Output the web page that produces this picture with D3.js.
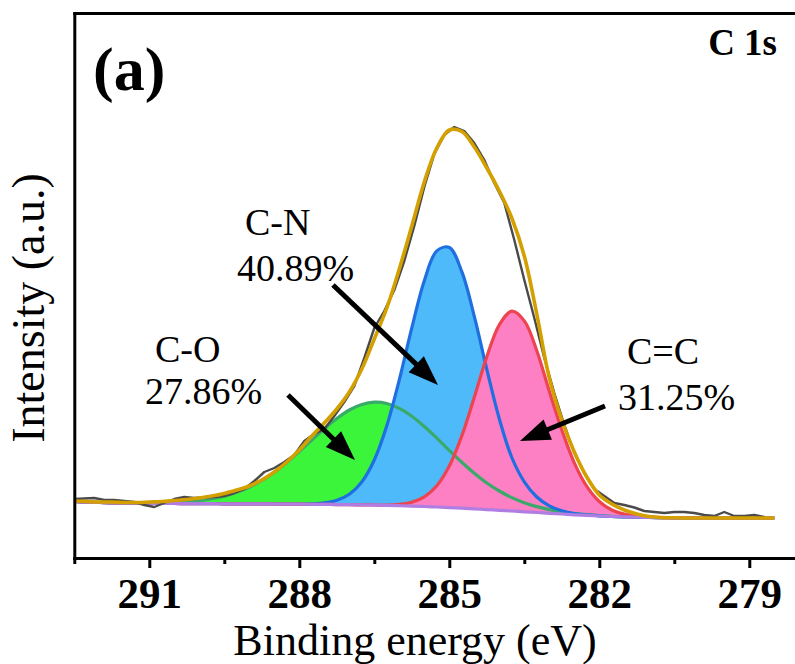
<!DOCTYPE html>
<html><head><meta charset="utf-8">
<script src="https://cdn.jsdelivr.net/npm/d3@7/dist/d3.min.js"></script>
<style>body{margin:0;background:#fff} svg{display:block} text{font-family:"Liberation Serif","DejaVu Serif",serif;}</style>
</head><body><svg id="chart" width="795" height="664"></svg>
<script>
// ---------- DATA ----------
const energy = [292.5,292.25,292,291.75,291.5,291.25,291,290.75,290.5,290.25,290,
  289.75,289.5,289.25,289,288.75,288.5,288.25,288,287.75,287.5,287.25,287,
  286.75,286.5,286.25,286,285.75,285.5,285.25,285,284.75,284.5,284.25,284,
  283.75,283.5,283.25,283,282.75,282.5,282.25,282,281.75,281.5,281.25,281,
  280.75,280.5,280.25,280,279.75,279.5,279.25,279,278.75,278.5];
const background = [56.5,56,55.5,55.2,55,54.8,54.7,54.6,54.5,54.45,54.4,
  54.3,54.2,54.15,54.1,54.05,54,53.9,53.8,53.7,53.6,53.45,53.3,
  53.1,52.9,52.6,52.3,51.9,51.5,51,50.4,49.8,49.1,48.4,47.7,
  47,46.2,45.5,44.7,44,43.2,42.6,42,41.5,41.1,40.8,40.5,
  40.3,40.2,40.1,40,40,40,40,40,40,40];
const envelope = [57,56.5,56,56,55.5,55.5,56,56.5,57.5,58.5,60,
  62,64.5,68,72,78,86,96,108,122,135,149,166,
  189,219,250,289,332,376,410,428,426.5,411,390,367,
  340,302,244,180,138,106,81,63,54,48,44,41.5,
  40.5,40.2,40,40,40,40,40,40,40,40];
const peakCO = [0,0,0,0,0.1,0.2,0.3,0.6,1.1,1.8,3.0,
  4.9,7.7,11.5,16.7,23.5,31.8,41.7,52.6,64.2,75.7,86.1,94.7,
  100.4,102.9,101.9,97.3,89.8,80.0,68.9,57.2,45.9,35.6,26.6,19.3,
  13.4,9.1,5.9,3.7,2.2,1.3,0.7,0.4,0.2,0.1,0,0,
  0,0,0,0,0,0,0,0,0,0];
const peakCN = [0,0,0,0,0,0,0,0,0,0,0,
  0,0,0,0,0,0,0,0.15,0.5,1.5,4.2,10.4,
  22.9,45.1,79.6,125.9,178.2,225.8,256.1,260.1,236.5,192.5,140.3,91.5,
  53.5,30,15.5,7.5,3.3,1.3,0.5,0.2,0,0,0,0,
  0,0,0,0,0,0,0,0,0,0];
const peakCC = [0,0,0,0,0,0,0,0,0,0,0,
  0,0,0,0,0,0,0,0,0,0,0,0,
  0,0.1,0.4,1.4,3.8,9.6,21.2,41.5,72.3,111.6,152.8,185.5,
  199.8,190.9,161.8,122,84,52,29,14.5,6.5,2.8,1.1,0.4,
  0.1,0,0,0,0,0,0,0,0,0];
const rawEnergy = [292.5,292.3,292.1,291.9,291.7,291.5,291.3,291.1,290.9,290.7,
  290.5,290.3,290.1,289.9,289.7,289.5,289.3,289.1,288.9,288.7,
  288.5,288.3,288.1,287.9,287.7,287.5,287.3,287.1,286.9,286.7,
  286.5,286.3,286.1,285.9,285.7,285.5,285.3,285.1,284.9,284.7,
  284.5,284.3,284.1,283.9,283.7,283.5,283.3,283.1,282.9,282.7,
  282.5,282.3,282.1,281.9,281.7,281.5,281.3,281.1,280.9,280.7,
  280.5,280.3,280.1,279.9,279.7,279.5,279.3,279.1,278.9,278.7];
const rawCounts = [59,59.5,60,58,58,57,56,53,51,55,
  59,61,60,60.5,61,62,65,69,77,86,
  90,96,103,117,124,129,142,156,172,200,
  230,247,268,297,332,371,404,423,431,427,
  415,398,375,355,318,278,240,200,165,133,
  105,85,69,62,55,53,50.5,47,46,45,
  46,46,45,43,42,46,42,42,43,41];
const xTicks = [291, 288, 285, 282, 279];
const xMinorTicks = [292.5, 289.5, 286.5, 283.5, 280.5];
const componentNames = ["C-O", "C-N", "C=C"];
const componentPercents = ["27.86%", "40.89%", "31.25%"];

// ---------- LAYOUT (annotation anchors in data units) ----------
const annot = [
  {name:[290.886,196], pct:[291.086,154], from:[288.226,163], to:[286.886,98]},
  {name:[289.086,323], pct:[289.246,277], from:[287.326,273], to:[285.226,173]},
  {name:[281.446,194], pct:[281.626,148], from:[281.886,152], to:[283.586,117]}
];

const svg = d3.select("#chart");
const x = d3.scaleLinear().domain([292.5, 278]).range([74.3, 799.3]);
const y = d3.scaleLinear().domain([0, 545]).range([558, 13]);

svg.append("defs").append("clipPath").attr("id","clip")
  .append("rect").attr("x",74.3).attr("y",13).attr("width",725).attr("height",545);
const plot = svg.append("g").attr("clip-path","url(#clip)");

const idx = d3.range(energy.length);
const curve = d3.curveCatmullRom.alpha(0.5);
const comps = [
  {vals: peakCO, fill:"#3bf53b", stroke:"#3aaa6a"},
  {vals: peakCN, fill:"#4fbafa", stroke:"#1f6fe0"},
  {vals: peakCC, fill:"#fd7fc4", stroke:"#ee4450"}
];
comps.forEach(c => {
  const area = d3.area().curve(curve)
    .x(i => x(energy[i])).y0(i => y(background[i])).y1(i => y(background[i] + c.vals[i]));
  plot.append("path").datum(idx).attr("d", area).attr("fill", c.fill);
});
comps.forEach(c => {
  const line = d3.line().curve(curve)
    .x(i => x(energy[i])).y(i => y(background[i] + c.vals[i]));
  plot.append("path").datum(idx).attr("d", line).attr("fill","none")
    .attr("stroke", c.stroke).attr("stroke-width", 3.2);
});
plot.append("path").datum(idx)
  .attr("d", d3.line().curve(curve).x(i => x(energy[i])).y(i => y(background[i])))
  .attr("fill","none").attr("stroke","#b07ee2").attr("stroke-width",3.2);
plot.append("path").datum(d3.range(rawEnergy.length))
  .attr("d", d3.line().x(i => x(rawEnergy[i])).y(i => y(rawCounts[i])))
  .attr("fill","none").attr("stroke","#4a4a4a").attr("stroke-width",2.4).attr("stroke-linejoin","round");
plot.append("path").datum(idx)
  .attr("d", d3.line().curve(curve).x(i => x(energy[i])).y(i => y(envelope[i])))
  .attr("fill","none").attr("stroke","#d4a000").attr("stroke-width",3.6);

// ---------- AXES ----------
const gx = svg.append("g").attr("transform","translate(0,558)")
  .call(d3.axisBottom(x).tickValues(xTicks).tickSize(10).tickSizeOuter(0).tickPadding(9).tickFormat(d3.format("d")));
gx.attr("font-family",null);
gx.select(".domain").attr("stroke-width",3).attr("stroke-linecap","square");
gx.selectAll(".tick line").attr("stroke-width",3);
gx.selectAll(".tick text").attr("font-weight","bold").attr("font-size",43).attr("fill","#000");
const gm = svg.append("g").attr("transform","translate(0,558)")
  .call(d3.axisBottom(x).tickValues(xMinorTicks).tickSize(6).tickFormat(""));
gm.select(".domain").remove();
gm.selectAll(".tick line").attr("stroke-width",3);
const gy = svg.append("g").attr("transform","translate(74.3,0)")
  .call(d3.axisLeft(y).tickValues([]).tickSizeOuter(0));
gy.select(".domain").attr("stroke-width",3).attr("stroke-linecap","square");
const gt = svg.append("g").attr("transform","translate(0,13)")
  .call(d3.axisTop(x).tickValues([]).tickSizeOuter(0));
gt.select(".domain").attr("stroke-width",3).attr("stroke-linecap","square");

svg.append("text").attr("x",415).attr("y",655).attr("text-anchor","middle")
  .attr("font-size",44).text("Binding energy (eV)");
svg.append("text").attr("transform","translate(44,308) rotate(-90)").attr("text-anchor","middle")
  .attr("font-size",46).text("Intensity (a.u.)");
svg.append("text").attr("x",93).attr("y",90)
  .attr("font-weight","bold").attr("font-size",62).text("(a)");
svg.append("text").attr("x",777).attr("y",55).attr("text-anchor","end")
  .attr("font-weight","bold").attr("font-size",37).text("C 1s");

// ---------- ANNOTATIONS ----------
function arrow(x1,y1,x2,y2){
  const dx=x2-x1, dy=y2-y1, L=Math.hypot(dx,dy), ux=dx/L, uy=dy/L;
  const hl=30, hw=11, bx=x2-ux*hl, by=y2-uy*hl;
  svg.append("line").attr("x1",x1).attr("y1",y1).attr("x2",bx+ux*3).attr("y2",by+uy*3)
    .attr("stroke","#000").attr("stroke-width",5);
  svg.append("polygon").attr("points",
    [[x2,y2],[bx-uy*hw,by+ux*hw],[bx+uy*hw,by-ux*hw]].map(p=>p.join(",")).join(" "))
    .attr("fill","#000");
}
annot.forEach((a,k) => {
  svg.append("text").attr("x",x(a.name[0])).attr("y",y(a.name[1]))
    .attr("font-size",38).text(componentNames[k]);
  svg.append("text").attr("x",x(a.pct[0])).attr("y",y(a.pct[1]))
    .attr("font-size",38).text(componentPercents[k]);
  arrow(x(a.from[0]),y(a.from[1]),x(a.to[0]),y(a.to[1]));
});
</script></body></html>
